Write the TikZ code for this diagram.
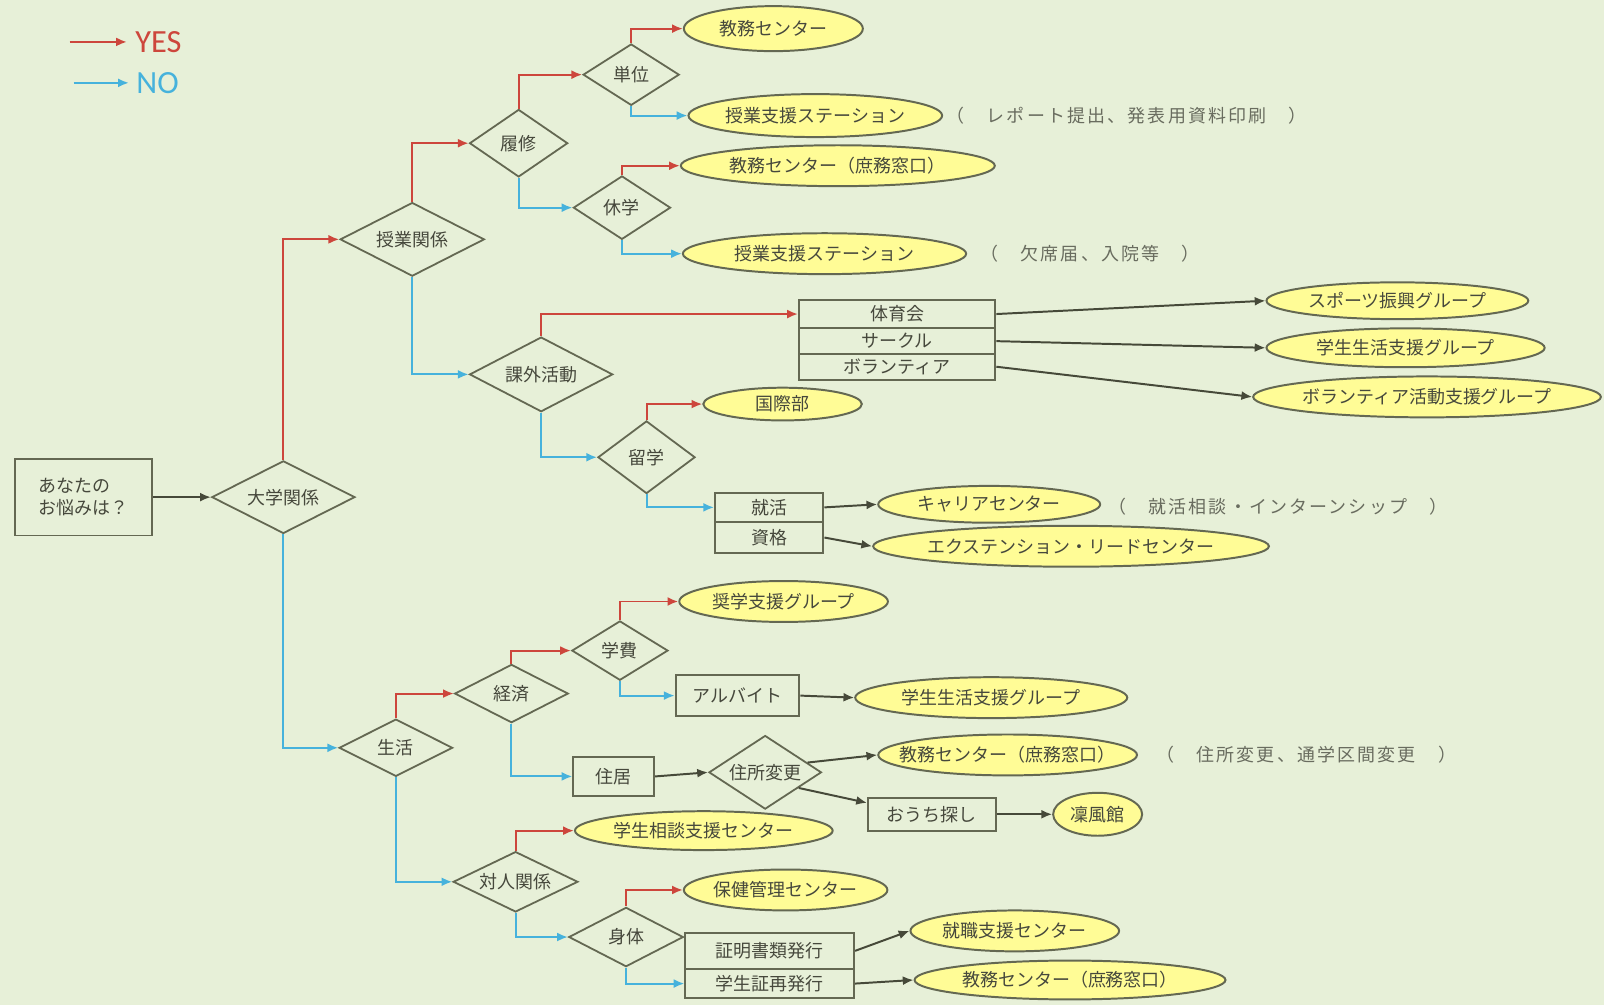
\documentclass[tikz,border=0pt]{standalone}
\usepackage{fontspec}
\setmainfont{Noto Sans CJK JP}
\newfontfamily\legendfont{Carlito}
\newfontfamily\asidefont[LetterSpace=12]{Noto Sans CJK JP}
\usetikzlibrary{shapes.geometric,arrows.meta}

\definecolor{bgcol}{RGB}{231,240,216}
\definecolor{yelcol}{RGB}{255,252,150}
\definecolor{linecol}{RGB}{100,104,82}
\definecolor{txtcol}{RGB}{70,72,60}
\definecolor{asidecol}{RGB}{105,108,95}
\definecolor{yescol}{RGB}{205,70,60}
\definecolor{nocol}{RGB}{70,178,220}

\newcommand\flowfont{\fontsize{10}{12}\selectfont}

\tikzset{
  question/.style={diamond, draw=linecol, line width=1pt, inner sep=0pt, aspect=1.8, text=txtcol, font=\flowfont},
  office/.style={ellipse, draw=linecol, line width=1.1pt, fill=yelcol, inner sep=0pt, text=txtcol, font=\flowfont},
  item/.style={rectangle, draw=linecol, line width=1.1pt, inner sep=0pt, text=txtcol, font=\flowfont},
  aside/.style={anchor=west, inner sep=0pt, text=asidecol, font=\asidefont\flowfont},
  yesline/.style={draw=yescol, line width=1.1pt, -{Latex[length=6pt,width=5pt]}},
  noline/.style={draw=nocol, line width=1.1pt, -{Latex[length=6pt,width=5pt]}},
  plainline/.style={draw=linecol!70!black, line width=1.1pt, -{Latex[length=6pt,width=5pt]}},
}

\begin{document}
\begin{tikzpicture}[x=0.02cm, y=-0.02cm]
\useasboundingbox (0,0) rectangle (1568,982);
\fill[bgcol] (0,0) rectangle (1568,982);

% legend
\coordinate (yesA) at (68,41);
\coordinate (yesB) at (124,41);
\coordinate (noA) at (72,81);
\coordinate (noB) at (126,81);
\draw[yesline] (yesA) -- (yesB);
\draw[noline] (noA) -- (noB);
\node[anchor=west, inner sep=0pt, text=yescol, font=\legendfont\fontsize{18}{20}\selectfont] (yeslbl) at (132,41) {YES};
\node[anchor=west, inner sep=0pt, text=nocol, font=\legendfont\fontsize{18}{20}\selectfont] (nolbl) at (133,81) {NO};

% start and questions
\node[item, minimum width=2.68cm, minimum height=1.5cm, align=left] (start) at (82,486) {あなたの\\お悩みは？};
\node[question, minimum width=2.8cm, minimum height=1.42cm] (daigaku) at (277,486) {大学関係};
\node[question, minimum width=2.82cm, minimum height=1.44cm] (jugyo) at (403,234) {授業関係};
\node[question, minimum width=1.92cm, minimum height=1.32cm] (rishu) at (507,140) {履修};
\node[question, minimum width=1.88cm, minimum height=1.2cm] (tani) at (617,73) {単位};
\node[question, minimum width=1.9cm, minimum height=1.24cm] (kyugaku) at (608,203) {休学};
\node[question, minimum width=2.8cm, minimum height=1.46cm] (kagai) at (529,366) {課外活動};
\node[question, minimum width=1.9cm, minimum height=1.42cm] (ryugaku) at (632,447) {留学};
\node[question, minimum width=2.22cm, minimum height=1.12cm] (seikatsu) at (387,731) {生活};
\node[question, minimum width=2.22cm, minimum height=1.14cm] (keizai) at (500,678) {経済};
\node[question, minimum width=1.88cm, minimum height=1.16cm] (gakuhi) at (606,636) {学費};
\node[question, minimum width=2.2cm, minimum height=1.44cm] (jusho) at (748,755) {住所変更};
\node[question, minimum width=2.44cm, minimum height=1.18cm] (taijin) at (504,862) {対人関係};
\node[question, minimum width=2.24cm, minimum height=1.16cm] (shintai) at (612,916) {身体};

% items
\node[item, minimum width=3.84cm, minimum height=0.56cm] (taiikukai) at (877,307) {体育会};
\node[item, minimum width=3.84cm, minimum height=0.5cm] (circle) at (877,333.5) {サークル};
\node[item, minimum width=3.84cm, minimum height=0.5cm] (volunteer) at (877,358.5) {ボランティア};
\node[item, minimum width=2.12cm, minimum height=0.56cm] (shukatsu) at (752,496) {就活};
\node[item, minimum width=2.12cm, minimum height=0.62cm] (shikaku) at (752,525.5) {資格};
\node[item, minimum width=2.42cm, minimum height=0.8cm] (arubaito) at (721,680) {アルバイト};
\node[item, minimum width=1.58cm, minimum height=0.76cm] (jukyo) at (600,759) {住居};
\node[item, minimum width=2.5cm, minimum height=0.64cm] (ouchi) at (911,796) {おうち探し};
\node[item, minimum width=3.3cm, minimum height=0.7cm] (shomei) at (752.5,929.5) {証明書類発行};
\node[item, minimum width=3.3cm, minimum height=0.58cm] (gakuseisho) at (752.5,961.5) {学生証再発行};

% offices
\node[office, minimum width=3.5cm, minimum height=0.88cm] (kyomuA) at (756,28) {教務センター};
\node[office, minimum width=4.94cm, minimum height=0.84cm] (stationA) at (797,113) {授業支援ステーション};
\node[office, minimum width=6.14cm, minimum height=0.8cm] (kyomuB) at (819,162) {教務センター（庶務窓口）};
\node[office, minimum width=5.54cm, minimum height=0.8cm] (stationB) at (806,248) {授業支援ステーション};
\node[office, minimum width=5.12cm, minimum height=0.72cm] (sports) at (1366,294) {スポーツ振興グループ};
\node[office, minimum width=5.44cm, minimum height=0.76cm] (lifeA) at (1374,340) {学生生活支援グループ};
\node[office, minimum width=6.8cm, minimum height=0.8cm, inner xsep=-2pt] (volgroup) at (1395,388) {ボランティア活動支援グループ};
\node[office, minimum width=3.1cm, minimum height=0.64cm] (kokusai) at (765,395) {国際部};
\node[office, minimum width=4.34cm, minimum height=0.72cm] (career) at (967,493) {キャリアセンター};
\node[office, minimum width=7.74cm, minimum height=0.8cm, inner xsep=-2.5pt] (extension) at (1047,534) {エクステンション・リードセンター};
\node[office, minimum width=4.08cm, minimum height=0.8cm] (shogaku) at (766,588) {奨学支援グループ};
\node[office, minimum width=5.32cm, minimum height=0.8cm] (lifeB) at (969,682) {学生生活支援グループ};
\node[office, minimum width=5.06cm, minimum height=0.8cm, inner xsep=-0.33cm] (kyomuC) at (985,738) {教務センター（庶務窓口）};
\node[office, minimum width=1.74cm, minimum height=0.84cm] (rinpu) at (1073,796) {凜風館};
\node[office, minimum width=5.04cm, minimum height=0.76cm] (sodan) at (688,812) {学生相談支援センター};
\node[office, minimum width=3.98cm, minimum height=0.8cm] (hoken) at (768,870) {保健管理センター};
\node[office, minimum width=4.08cm, minimum height=0.8cm] (shushoku) at (992,910) {就職支援センター};
\node[office, minimum width=6.08cm, minimum height=0.76cm] (kyomuD) at (1046,958) {教務センター（庶務窓口）};

% notes
\node[aside] (noteA) at (925,113) {（　レポート提出、発表用資料印刷　）};
\node[aside] (noteB) at (958,248) {（　欠席届、入院等　）};
\node[aside] (noteC) at (1083,495) {（　就活相談・インターンシップ　）};
\node[aside] (noteD) at (1130,738) {（　住所変更、通学区間変更　）};

% yes
\draw[yesline] (daigaku.north) |- (jugyo.west);
\draw[yesline] (jugyo.north) |- (rishu.west);
\draw[yesline] (rishu.north) |- (tani.west);
\draw[yesline] (tani.north) |- (kyomuA.west);
\draw[yesline] (kyugaku.north) |- (kyomuB.west);
\draw[yesline] (kagai.north) |- (taiikukai.west);
\draw[yesline] (ryugaku.north) |- (kokusai.west);
\draw[yesline] (seikatsu.north) |- (keizai.west);
\draw[yesline] (keizai.north) |- (gakuhi.west);
\draw[yesline] (gakuhi.north) |- (shogaku.west);
\draw[yesline] (taijin.north) |- (sodan.west);
\draw[yesline] (shintai.north) |- (hoken.west);

% no
\draw[noline] (daigaku.south) |- (seikatsu.west);
\draw[noline] (jugyo.south) |- (kagai.west);
\draw[noline] (rishu.south) |- (kyugaku.west);
\draw[noline] (tani.south) |- (stationA.west);
\draw[noline] (kyugaku.south) |- (stationB.west);
\draw[noline] (kagai.south) |- (ryugaku.west);
\draw[noline] (ryugaku.south) |- (shukatsu.west);
\draw[noline] (seikatsu.south) |- (taijin.west);
\draw[noline] (keizai.south) |- (jukyo.west);
\draw[noline] (gakuhi.south) |- (arubaito.west);
\draw[noline] (taijin.south) |- (shintai.west);
\draw[noline] (shintai.south) |- (gakuseisho.west);

% plain
\draw[plainline] (start) -- (daigaku);
\draw[plainline] (taiikukai.east) -- (sports.west);
\draw[plainline] (circle.east) -- (lifeA.west);
\draw[plainline] (volunteer.east) -- (volgroup.west);
\draw[plainline] (shukatsu.east) -- (career.west);
\draw[plainline] (shikaku.east) -- (extension.west);
\draw[plainline] (arubaito.east) -- (lifeB.west);
\draw[plainline] (jukyo.east) -- (jusho.west);
\draw[plainline] (jusho.13) -- (kyomuC.west);
\draw[plainline] (jusho.-25) -- (ouchi.170);
\draw[plainline] (ouchi.east) -- (rinpu.west);
\draw[plainline] (shomei.east) -- (shushoku.west);
\draw[plainline] (gakuseisho.east) -- (kyomuD.west);
\end{tikzpicture}
\end{document}
